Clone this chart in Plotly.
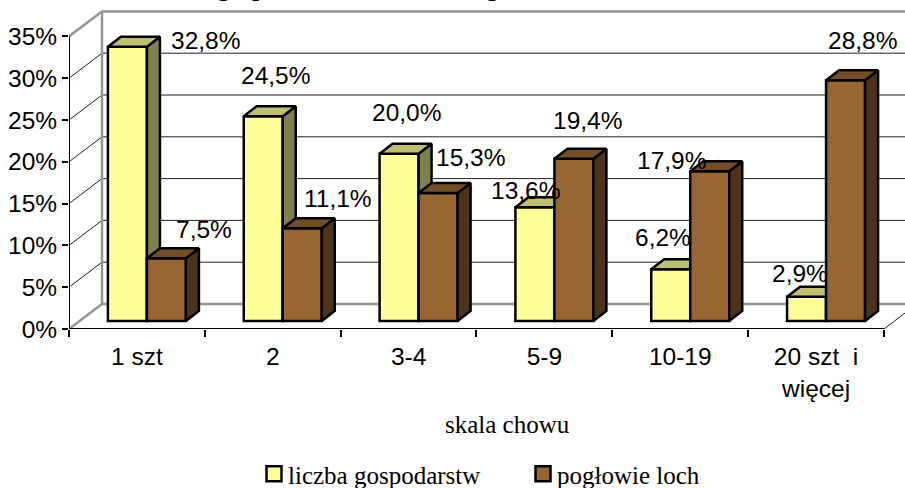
import plotly.graph_objects as go

categories = ["1 szt", "2", "3-4", "5-9", "10-19", "20 szt  i<br>więcej"]
farms = [32.8, 24.5, 20.0, 13.6, 6.2, 2.9]
sows = [7.5, 11.1, 15.3, 19.4, 17.9, 28.8]
farm_labels = ["32,8%", "24,5%", "20,0%", "13,6%", "6,2%", "2,9%"]
sow_labels = ["7,5%", "11,1%", "15,3%", "19,4%", "17,9%", "28,8%"]
y_ticks = [0, 5, 10, 15, 20, 25, 30, 35]
y_tick_labels = ["0%", "5%", "10%", "15%", "20%", "25%", "30%", "35%"]

W, H = 905, 488
L, B = 69, 159
PX_X = 135.83
PX_Y = 8.36
XMIN = -0.5
XMAX = XMIN + (W - L) / PX_X
YMAX = (H - B) / PX_Y

WALL_DX, WALL_DY = 33 / PX_X, 25 / PX_Y        # depth of the chart box
BAR_SHIFT_X, BAR_BASE = 10 / PX_X, 8 / PX_Y    # front plane of the bars
BAR_W = 39 / PX_X
SIDE_DX, SIDE_DY = 13 / PX_X, 10 / PX_Y        # depth of a bar
GREY = "#969696"
SANS = 24.5
EDGE = 2.5

# pixel offsets of the data labels from the bar's top centre
farm_off = [(78, 6), (12, 41), (7, 41), (-9, 17), (-8, 32), (-7, 23)]
sow_off = [(38, 29), (36, 30), (32, 36), (14, 38), (-38, 11), (17, 40)]

fig = go.Figure()


def line(xs, ys, color, width, **kw):
    fig.add_trace(go.Scatter(x=xs, y=ys, mode="lines", showlegend=False, hoverinfo="skip",
                             cliponaxis=False, line=dict(color=color, width=width), **kw))


# chart box: grid lines on the back wall and the side wall
for t in y_ticks[1:-1]:
    line([XMIN, XMIN + WALL_DX, XMAX], [t, t + WALL_DY, t + WALL_DY], "#222222", 1)
line([XMIN, XMIN + WALL_DX, XMAX], [35, 35 + WALL_DY, 35 + WALL_DY], GREY, 2.5)
line([XMIN, XMIN + WALL_DX, XMAX], [0, WALL_DY, WALL_DY], GREY, 2.5)
line([XMIN + WALL_DX, XMIN + WALL_DX], [WALL_DY, 35 + WALL_DY], GREY, 2.5)
line([5.5, 5.5 + 21 / PX_X], [0, 21 / PX_X * WALL_DY / WALL_DX], "#222222", 1)
# axis lines
line([XMIN, XMIN], [0, 35], "black", 2)
line([XMIN, 5.5], [0, 0], "black", 2)


def series(values, offset, front, side, top, name, xa, ya):
    xs = [i + BAR_SHIFT_X + offset for i in range(len(values))]
    fig.add_trace(go.Bar(x=xs, y=values, base=[BAR_BASE] * len(values), width=BAR_W,
                         marker=dict(color=front, line=dict(color="black", width=EDGE)),
                         showlegend=False, hoverinfo="skip", xaxis=xa, yaxis=ya))
    for x, v in zip(xs, values):
        xr = x + BAR_W / 2
        xl = x - BAR_W / 2
        yt = BAR_BASE + v
        fig.add_trace(go.Scatter(
            x=[xr, xr + SIDE_DX, xr + SIDE_DX, xr, xr],
            y=[BAR_BASE, BAR_BASE + SIDE_DY, yt + SIDE_DY, yt, BAR_BASE],
            fill="toself", fillcolor=side, mode="lines", line=dict(color="black", width=EDGE),
            showlegend=False, hoverinfo="skip", xaxis=xa, yaxis=ya))
        fig.add_trace(go.Scatter(
            x=[xl, xl + SIDE_DX, xr + SIDE_DX, xr, xl],
            y=[yt, yt + SIDE_DY, yt + SIDE_DY, yt, yt],
            fill="toself", fillcolor=top, mode="lines", line=dict(color="black", width=EDGE),
            showlegend=False, hoverinfo="skip", xaxis=xa, yaxis=ya))
    fig.add_trace(go.Scatter(x=[None], y=[None], mode="markers", name=name,
                             marker=dict(symbol="square", size=15, color=front,
                                         line=dict(color="black", width=2.5)), xaxis=xa, yaxis=ya))
    return xs


x_farm = series(farms, -BAR_W / 2, "#FFFF99", "#80804D", "#BFBF73", "liczba gospodarstw", "x2", "y2")
x_sow = series(sows, BAR_W / 2, "#996633", "#4D331A", "#734D26", "pogłowie loch", "x3", "y3")

annotations = []
for xs, vals, labels, offs in [(x_farm, farms, farm_labels, farm_off), (x_sow, sows, sow_labels, sow_off)]:
    for x, v, lab, (dx, dy) in zip(xs, vals, labels, offs):
        annotations.append(dict(x=x, y=BAR_BASE + v, text=lab, showarrow=False, xref="x", yref="y",
                                xshift=dx, yshift=dy, xanchor="center", yanchor="middle",
                                font=dict(family="Liberation Sans", size=SANS, color="black")))
annotations.append(dict(x=(507 - L) / (W - L), y=-(424 - 329) / 329, xref="paper", yref="paper",
                        text="skala chowu", showarrow=False, xanchor="center", yanchor="middle",
                        font=dict(family="Liberation Serif", size=25, color="black")))
# chart title: cut by the top edge of the picture, only its descenders show
annotations.append(dict(x=(102 - L) / (W - L), y=1, xref="paper", yref="paper", yshift=-3,
                        text="<b>Struktura gospodarstw i loch według skali chowu</b>", showarrow=False,
                        xanchor="left", yanchor="bottom",
                        font=dict(family="Liberation Serif", size=25, color="black")))

hidden = dict(visible=False, fixedrange=True)
fig.update_layout(
    width=W, height=H, autosize=False,
    margin=dict(l=L, r=0, t=0, b=B, pad=0, autoexpand=False),
    paper_bgcolor="white", plot_bgcolor="white",
    barmode="overlay",
    font=dict(family="Liberation Sans", size=SANS, color="black"),
    xaxis=dict(range=[XMIN, XMAX], tickmode="array", tickvals=list(range(6)), ticktext=categories,
               ticks="outside", tickcolor="rgba(0,0,0,0)", ticklen=6, showgrid=False, zeroline=False,
               showline=False, tickfont=dict(size=SANS), automargin=False,
               minor=dict(tickmode="array", tickvals=[i - 0.5 for i in range(7)], ticks="outside",
                          ticklen=7, tickwidth=2, tickcolor="black", showgrid=False)),
    yaxis=dict(range=[0, YMAX], tickmode="array", tickvals=y_ticks, ticktext=y_tick_labels,
               ticks="outside", ticklen=6, tickwidth=2, tickcolor="black", showgrid=False,
               zeroline=False, showline=False, tickfont=dict(size=SANS), automargin=False),
    xaxis2=dict(range=[XMIN, XMAX], overlaying="x", anchor="y2", **hidden),
    yaxis2=dict(range=[0, YMAX], overlaying="y", anchor="x2", **hidden),
    xaxis3=dict(range=[XMIN, XMAX], overlaying="x", anchor="y3", **hidden),
    yaxis3=dict(range=[0, YMAX], overlaying="y", anchor="x3", **hidden),
    legend=dict(orientation="h", x=(248 - L) / (W - L), y=-(470 - 329) / 329, xanchor="left", yanchor="middle",
                font=dict(family="Liberation Serif", size=25, color="black"), bgcolor="rgba(0,0,0,0)",
                entrywidth=224, entrywidthmode="pixels", traceorder="normal", itemclick=False, itemdoubleclick=False),
    annotations=annotations,
    showlegend=True,
)
post = """
document.body.style.margin = '0';
document.documentElement.style.overflow = 'hidden';
document.querySelectorAll('.legendsymbols').forEach(function (s) {
  s.setAttribute('transform', 'translate(6,0)');
});
document.querySelectorAll('.legend').forEach(function (g) {
  g.setAttribute('transform', (g.getAttribute('transform') || '') + ' translate(0,4)');
});
"""
fig.write_html("out.html", config=dict(displayModeBar=False), post_script=post)
